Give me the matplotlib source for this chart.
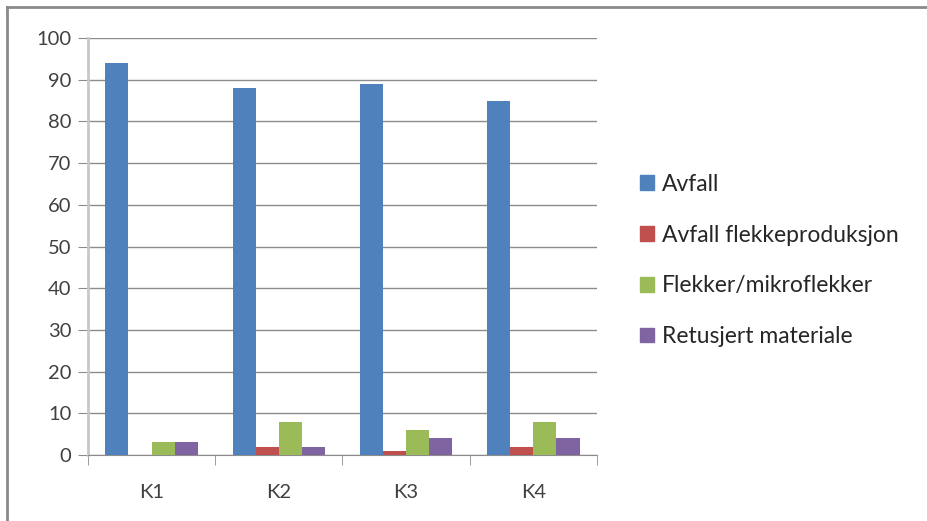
import matplotlib.pyplot as plt
import numpy as np
from matplotlib.lines import Line2D

# Data
categories = ['K1', 'K2', 'K3', 'K4']
avfall = [94, 88, 89, 85]
avfall_flekke = [0, 2, 1, 2]
flekker = [3, 8, 6, 8]
retusjert = [3, 2, 4, 4]
series_names = ['Avfall', 'Avfall flekkeproduksjon',
                'Flekker/mikroflekker', 'Retusjert materiale']
colors = ['#4f81bd', '#c0504d', '#9bbb59', '#8064a2']

plt.rcParams['font.family'] = ['Lato', 'DejaVu Sans']

fig = plt.figure(figsize=(9.27, 5.21), dpi=100)
ax = fig.add_axes([0.0949, 0.1267, 0.549, 0.8003])

x = np.arange(len(categories))
width = 1 / 5.5
series = [avfall, avfall_flekke, flekker, retusjert]
for i, (vals, name, c) in enumerate(zip(series, series_names, colors)):
    ax.bar(x + (i - 1.5) * width, vals, width, color=c, label=name, zorder=3)

ax.set_xlim(-0.5, len(categories) - 0.5)
ax.set_ylim(0, 100)
ax.set_yticks(range(0, 101, 10))
ax.yaxis.grid(True, color='#8c8c8c', linewidth=1)
ax.set_axisbelow(True)

ax.set_xticks(x)
ax.set_xticklabels(categories)
ax.set_xticks(np.arange(-0.5, len(categories)), minor=True)
ax.tick_params(axis='x', which='major', length=0, pad=21, labelsize=14.5,
               colors='#404040')
ax.tick_params(axis='x', which='minor', length=7, color='#8c8c8c')
ax.tick_params(axis='y', length=7, color='#8c8c8c', labelsize=14.5,
               labelcolor='#404040', pad=5)

for s in ['top', 'right']:
    ax.spines[s].set_visible(False)
ax.spines['left'].set_color('#c8c8c8')
ax.spines['left'].set_linewidth(2)
ax.spines['bottom'].set_color('#8c8c8c')

handles = [plt.Rectangle((0, 0), 1, 1, color=c) for c in colors]
fig.legend(handles, series_names, loc='center left',
           bbox_to_anchor=(0.678, 0.5), frameon=False, fontsize=16.5,
           handlelength=0.6, handleheight=0.6, handletextpad=0.35,
           labelspacing=1.3, labelcolor='#262626', borderpad=0)

# outer chart border (left and top visible)
fig.add_artist(Line2D([0.0075, 0.0075], [0, 0.987], color='#8a8a8a',
                      linewidth=2, transform=fig.transFigure))
fig.add_artist(Line2D([0.0075, 1.0], [0.987, 0.987], color='#8a8a8a',
                      linewidth=2, transform=fig.transFigure))

fig.savefig('out.png', dpi=100)
